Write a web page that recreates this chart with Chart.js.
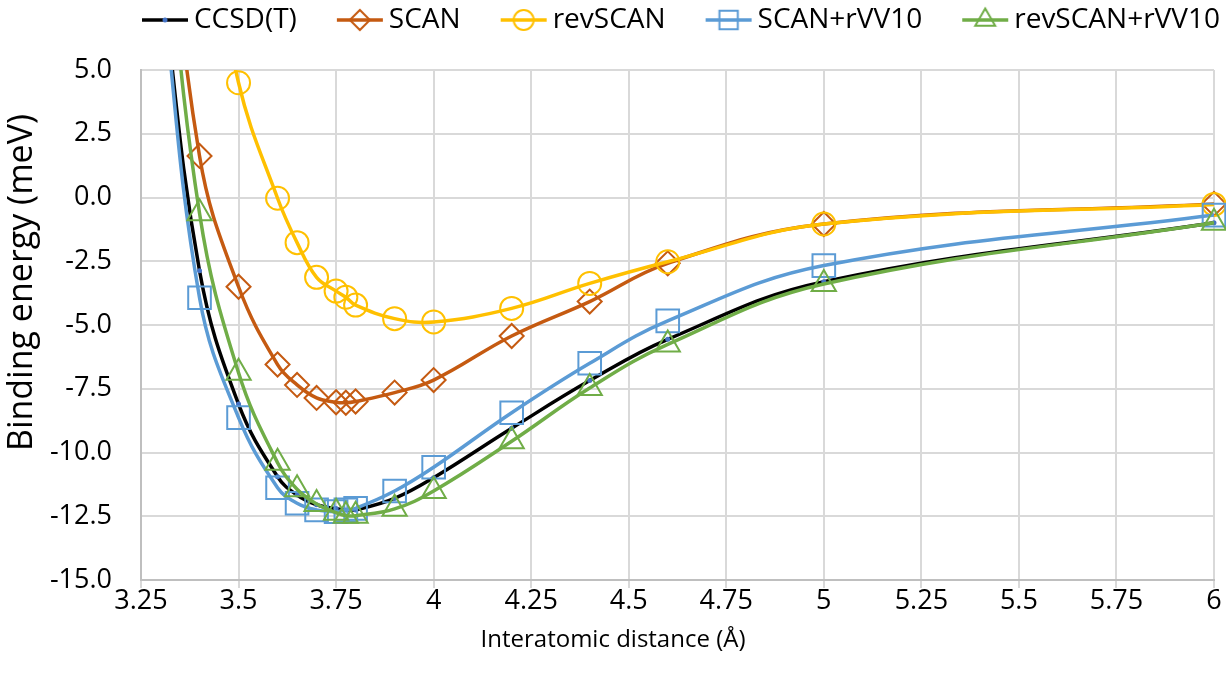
<!DOCTYPE html>
<html>
<head>
<meta charset="utf-8">
<script src="https://cdn.jsdelivr.net/npm/chart.js@4.4.1/dist/chart.umd.min.js"></script>
<style>
  html, body { margin: 0; padding: 0; background: #fff; }
</style>
</head>
<body>
<canvas id="chart" width="1226" height="681"></canvas>
<script>
// interatomic distance (Å)
const distances = [3.3, 3.4, 3.5, 3.6, 3.65, 3.7, 3.75, 3.775, 3.8, 3.9, 4.0, 4.2, 4.4, 4.6, 5.0, 6.0];

// binding energies (meV)
const ccsdt       = [9.0, -2.87, -8.10, -10.95, -11.67, -12.05, -12.20, -12.25, -12.25, -11.80, -10.99, -9.05, -7.18, -5.56, -3.30, -0.99];
const scan        = [15.0, 1.63, -3.50, -6.55, -7.35, -7.86, -8.03, -8.05, -8.00, -7.65, -7.16, -5.43, -4.08, -2.58, -1.04, -0.25];
const revscan     = [null, 13.0, 4.50, -0.03, -1.77, -3.13, -3.67, -3.91, -4.22, -4.75, -4.88, -4.35, -3.37, -2.52, -1.04, -0.27];
const scanVV10    = [9.0, -3.93, -8.63, -11.38, -11.99, -12.25, -12.32, -12.25, -12.19, -11.51, -10.58, -8.44, -6.50, -4.84, -2.67, -0.69];
const revscanVV10 = [13.0, -0.62, -6.87, -10.40, -11.44, -12.02, -12.36, -12.48, -12.48, -12.21, -11.51, -9.56, -7.47, -5.76, -3.39, -0.99];

const xTickLabels = ['3.25', '3.5', '3.75', '4', '4.25', '4.5', '4.75', '5', '5.25', '5.5', '5.75', '6'];
const yTickLabels = ['-15.0', '-12.5', '-10.0', '-7.5', '-5.0', '-2.5', '0.0', '2.5', '5.0'];
const xTitle = 'Interatomic distance (Å)';
const yTitle = 'Binding energy (meV)';

const FONT = 'Open Sans';

function points(vals) {
  const out = [];
  for (let i = 0; i < distances.length; i++) {
    if (vals[i] !== null) out.push({ x: distances[i], y: vals[i] });
  }
  return out;
}

// legend symbol: line with the marker on it, transparent space on the left acts as gap
function legendIcon(color, style, r, fill) {
  const c = document.createElement('canvas');
  c.width = 90;
  c.height = 30;
  const g = c.getContext('2d');
  g.strokeStyle = color;
  g.lineWidth = 3.5;
  g.beginPath();
  g.moveTo(43, 15);
  g.lineTo(89, 15);
  g.stroke();
  g.lineWidth = 2;
  g.fillStyle = fill || 'rgba(0,0,0,0)';
  g.strokeStyle = color;
  Chart.helpers.drawPoint(g, { pointStyle: style, radius: r, borderWidth: fill ? 0 : 2, rotation: 0 }, 66, 15);
  return c;
}

const legendIcons = [
  legendIcon('#000000', 'circle', 2.5, '#4472C4'),
  legendIcon('#C55A11', 'rectRot', 10),
  legendIcon('#FFC000', 'circle', 10),
  legendIcon('#5B9BD5', 'rect', 13),
  legendIcon('#70AD47', 'triangle', 11.5)
];

// legend box taller, so the plot starts lower
const legendHeight = {
  id: 'legendHeight',
  beforeInit(chart) {
    const fit = chart.legend.fit;
    chart.legend.fit = function () {
      fit.bind(chart.legend)();
      this.height = 70;
    };
  }
};

// axis titles: x centred on the whole picture, y pushed up like the original
const axisTitles = {
  id: 'axisTitles',
  afterDraw(chart) {
    const ctx = chart.ctx;
    ctx.save();
    ctx.fillStyle = '#000';
    ctx.textBaseline = 'middle';
    ctx.font = '24px "' + FONT + '"';
    ctx.textAlign = 'center';
    ctx.fillText(xTitle, chart.width / 2, 640);
    ctx.translate(22, 114);
    ctx.rotate(-Math.PI / 2);
    ctx.font = '34px "' + FONT + '"';
    ctx.textAlign = 'right';
    ctx.fillText(yTitle, 0, 0);
    ctx.restore();
  }
};

// clip lines at the plot top, but let the markers at x = 6 show whole
const CLIP = { left: 2, top: 0, right: 20, bottom: 2 };

new Chart(document.getElementById('chart'), {
  type: 'line',
  data: {
    datasets: [
      {
        label: 'CCSD(T)',
        data: points(ccsdt),
        borderColor: '#000000',
        borderWidth: 3.5,
        pointStyle: 'circle',
        pointRadius: 2.5,
        pointBorderWidth: 0,
        pointBackgroundColor: '#4472C4',
        clip: CLIP,
        order: 5
      },
      {
        label: 'SCAN',
        data: points(scan),
        borderColor: '#C55A11',
        borderWidth: 3.5,
        pointStyle: 'rectRot',
        pointRadius: 12,
        pointBorderWidth: 2,
        pointBorderColor: '#C55A11',
        pointBackgroundColor: 'rgba(0,0,0,0)',
        clip: CLIP,
        order: 4
      },
      {
        label: 'revSCAN',
        data: points(revscan),
        borderColor: '#FFC000',
        borderWidth: 3.5,
        pointStyle: 'circle',
        pointRadius: 11.5,
        pointBorderWidth: 2,
        pointBorderColor: '#FFC000',
        pointBackgroundColor: 'rgba(0,0,0,0)',
        clip: CLIP,
        order: 3
      },
      {
        label: 'SCAN+rVV10',
        data: points(scanVV10),
        borderColor: '#5B9BD5',
        borderWidth: 3.5,
        pointStyle: 'rect',
        pointRadius: 16,
        pointBorderWidth: 2,
        pointBorderColor: '#5B9BD5',
        pointBackgroundColor: 'rgba(0,0,0,0)',
        clip: CLIP,
        order: 2
      },
      {
        label: 'revSCAN+rVV10',
        data: points(revscanVV10),
        borderColor: '#70AD47',
        borderWidth: 3.5,
        pointStyle: 'triangle',
        pointRadius: 14,
        pointBorderWidth: 2,
        pointBorderColor: '#70AD47',
        pointBackgroundColor: 'rgba(0,0,0,0)',
        clip: CLIP,
        order: 1
      }
    ]
  },
  options: {
    responsive: false,
    animation: false,
    layout: { padding: 0, autoPadding: false },
    elements: {
      line: { tension: 0.4, capBezierPoints: false, fill: false }
    },
    plugins: {
      tooltip: { enabled: false },
      legend: {
        position: 'top',
        align: 'end',
        labels: {
          usePointStyle: true,
          pointStyleWidth: 72,
          padding: 6,
          color: '#000',
          font: { family: FONT, size: 28 },
          generateLabels(chart) {
            const items = Chart.defaults.plugins.legend.labels.generateLabels(chart);
            items.sort((a, b) => a.datasetIndex - b.datasetIndex);
            items.forEach(it => { it.pointStyle = legendIcons[it.datasetIndex]; });
            return items;
          }
        }
      }
    },
    scales: {
      x: {
        type: 'linear',
        min: 3.25,
        max: 6,
        afterFit(s) { s.height = 101; s.paddingRight = 12; },
        ticks: {
          stepSize: 0.25,
          padding: -3,
          color: '#000',
          font: { family: FONT, size: 27 },
          callback: (v, i) => xTickLabels[i]
        },
        grid: { color: '#d9d9d9', lineWidth: 2, drawTicks: true, tickLength: 8, tickColor: '#d9d9d9' },
        border: { color: '#bfbfbf', width: 2 }
      },
      y: {
        min: -15,
        max: 5,
        afterFit(s) { s.width = 141; },
        ticks: {
          stepSize: 2.5,
          padding: 29,
          color: '#000',
          font: { family: FONT, size: 27 },
          callback: (v, i) => yTickLabels[i]
        },
        grid: { color: '#d9d9d9', lineWidth: 2, drawTicks: false },
        border: { color: '#bfbfbf', width: 2 }
      }
    }
  },
  plugins: [legendHeight, axisTitles]
});
</script>
</body>
</html>
